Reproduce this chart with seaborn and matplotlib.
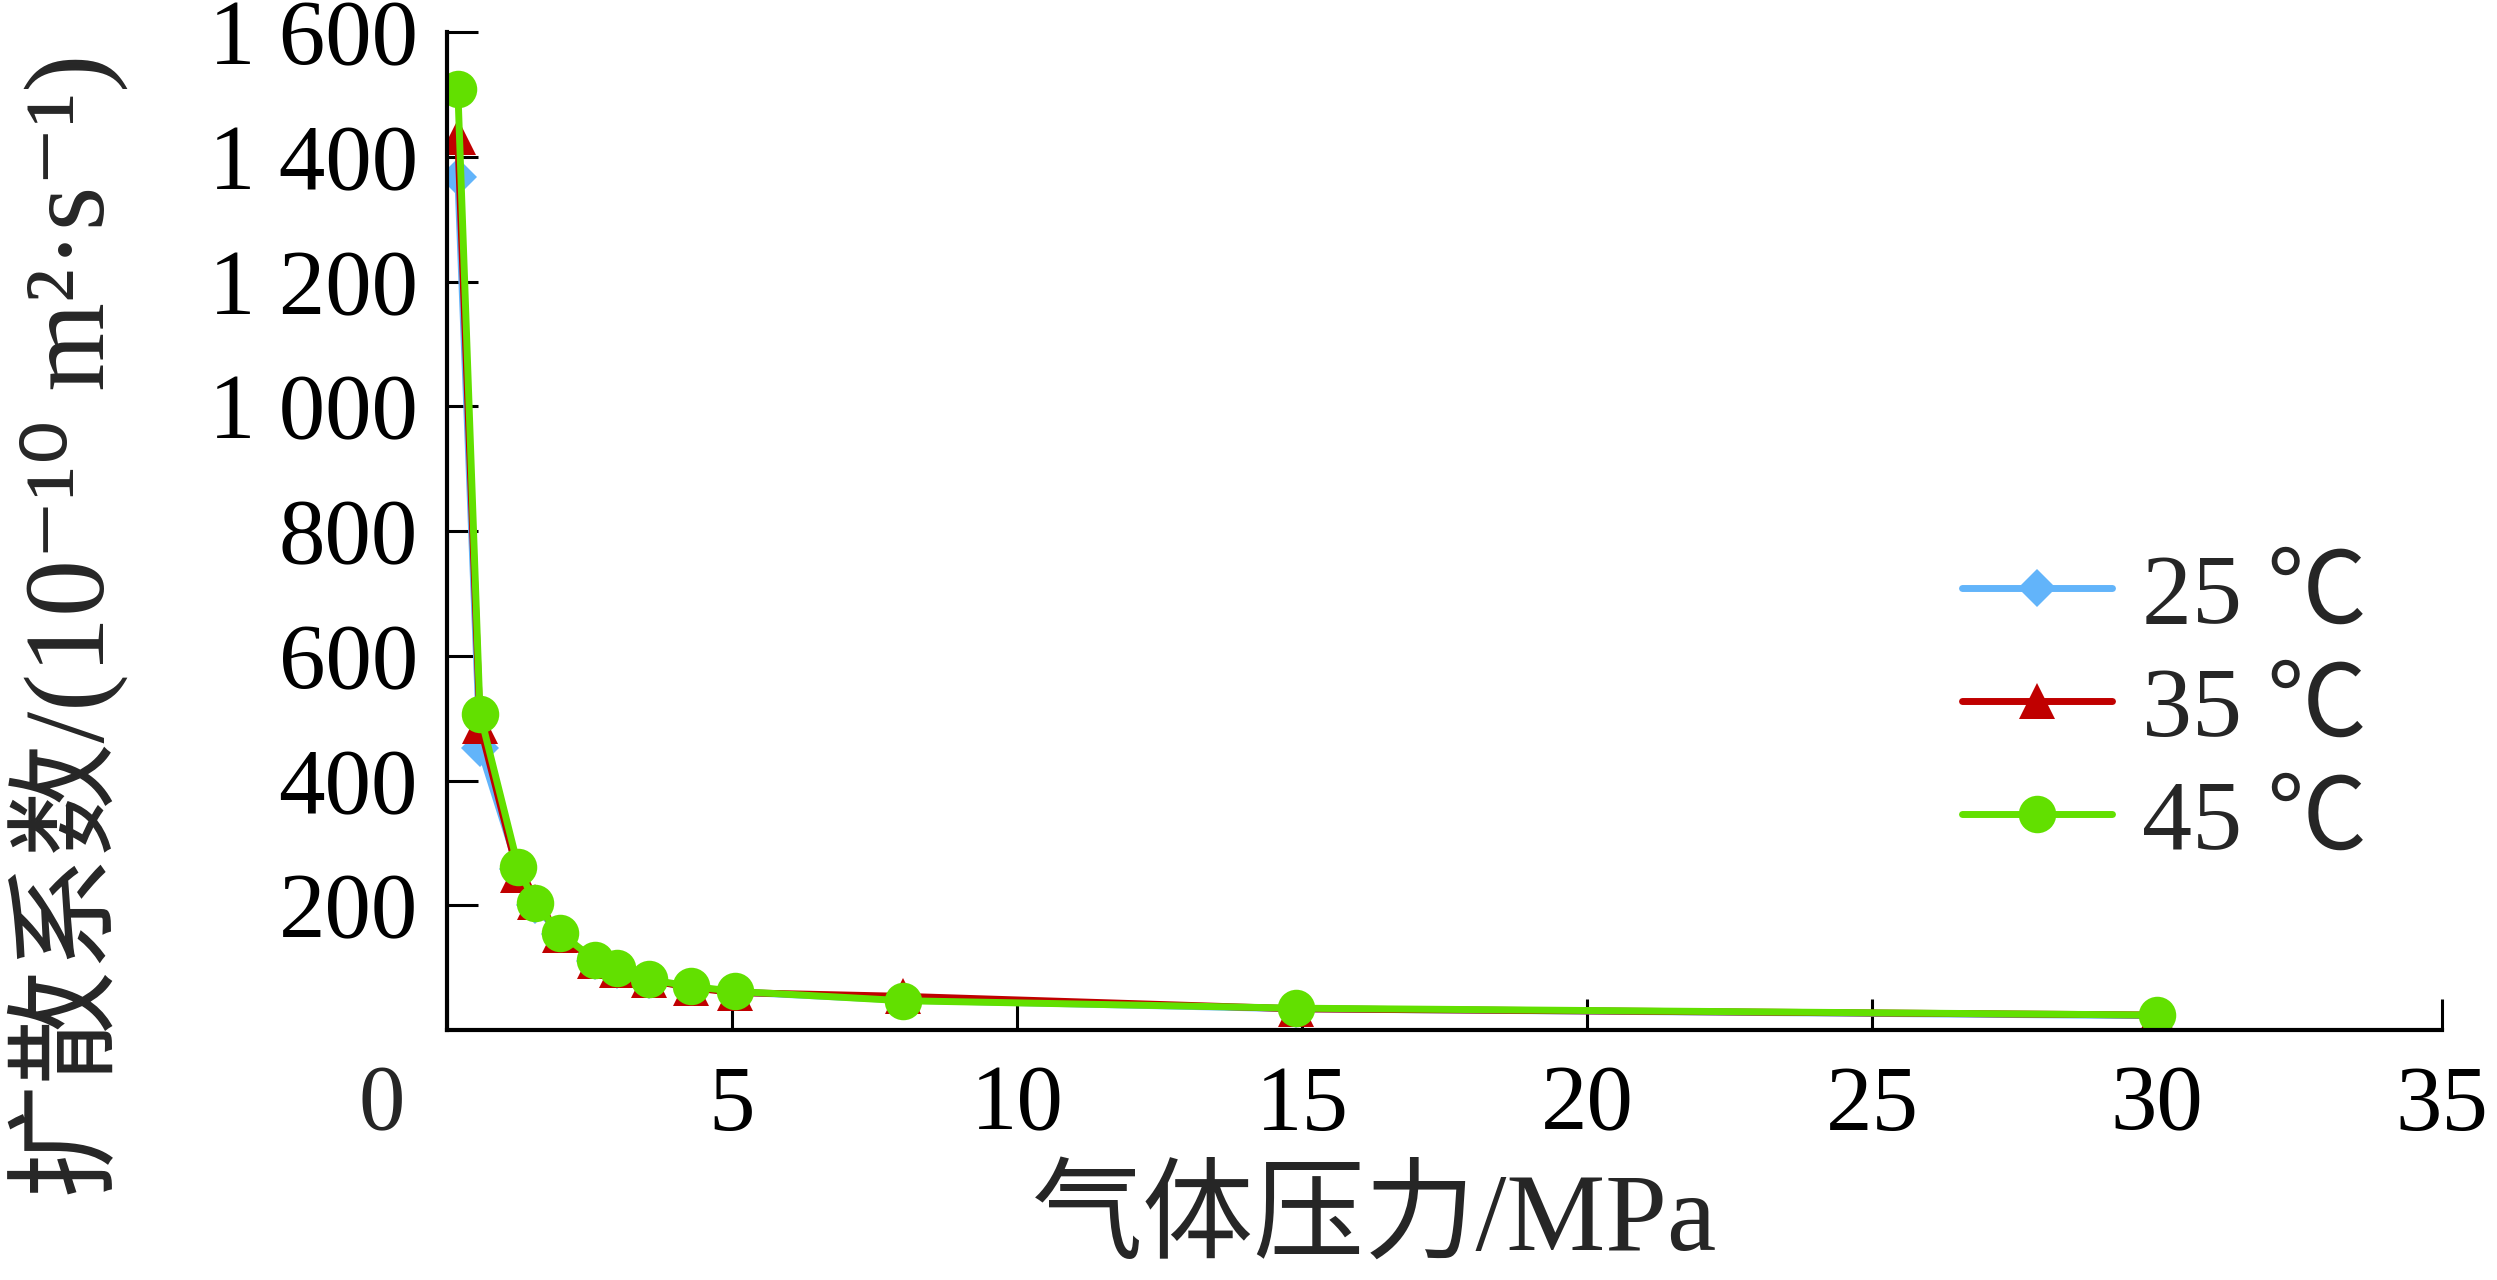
import matplotlib
matplotlib.use('Agg')
import matplotlib.pyplot as plt
import seaborn as sns
import pandas as pd
from matplotlib.ticker import FuncFormatter, MultipleLocator

# 数据
pressure = [0.19, 0.58, 1.25, 1.54, 1.98, 2.60, 2.98, 3.54, 4.28, 5.05, 8.0, 14.9, 30.0]
d_25 = [1368, 452, 258, 200, 154, 110, 97, 80, 69, 61, 48, 34, 23]
d_35 = [1432, 488, 249, 206, 153, 110, 97, 80, 68, 60, 54, 34, 24]
d_45 = [1509, 507, 262, 203, 156, 112, 99, 81, 70, 62, 47, 35, 24]
labels = ['25 ℃', '35 ℃', '45 ℃']
colors = ['#62B4FA', '#C00000', '#62E000']
markers = ['D', '^', 'o']
marker_sizes = [19, 26, 27]

sns.set_theme(style='white')
plt.rcParams['font.family'] = ['Liberation Serif', 'Noto Sans CJK SC', 'DejaVu Sans']
plt.rcParams['axes.unicode_minus'] = False

fig = plt.figure(figsize=(24.97, 12.8), dpi=100)
ax = fig.add_axes([0.179, 0.1953, 0.799, 0.7797])

for vals, lab, c, mk, ms in zip([d_25, d_35, d_45], labels, colors, markers, marker_sizes):
    df = pd.DataFrame({'p': pressure, 'd': vals})
    sns.lineplot(ax=ax, data=df, x='p', y='d', color=c, marker=mk, markersize=ms,
                 markeredgewidth=0, linewidth=5, label=lab, errorbar=None)

ax.set_xlim(0, 35)
ax.set_ylim(0, 1600)
ax.xaxis.set_major_locator(MultipleLocator(5))
ax.set_yticks(range(200, 1601, 200))


def thousands(v, pos):
    return f'{int(v):,}'.replace(',', ' ')


ax.yaxis.set_major_formatter(FuncFormatter(thousands))
ax.xaxis.set_major_formatter(FuncFormatter(lambda v, pos: '' if v == 0 else f'{int(v)}'))

for side in ['top', 'right']:
    ax.spines[side].set_visible(False)
for side in ['left', 'bottom']:
    ax.spines[side].set_linewidth(3)
    ax.spines[side].set_color('black')

ax.tick_params(axis='both', direction='in', length=22, width=2.2, color='black',
               labelsize=67, labelcolor='black', bottom=True, left=True)
ax.tick_params(axis='y', pad=21)
ax.tick_params(axis='x', pad=25)

# 原点处的 0
ax.annotate('0', xy=(0, 0), xycoords='axes fraction', xytext=(-47, -25),
            textcoords='offset points', ha='center', va='top', fontsize=67)

ax.set_xlabel('气体压力/MPa', fontsize=80)
ax.set_ylabel('扩散系数/(10⁻¹⁰ m²·s⁻¹)', fontsize=82)
ax.xaxis.set_label_coords(0.465, -0.140)
ax.yaxis.set_label_coords(-0.160, 0.405)

ax.legend(loc='center left', bbox_to_anchor=(0.7857, 0.4445), bbox_transform=fig.transFigure,
          frameon=False, fontsize=72, handlelength=1.5, handletextpad=0.3,
          borderpad=0, borderaxespad=0, labelspacing=0.22)

plt.savefig('out.png', dpi=100)
